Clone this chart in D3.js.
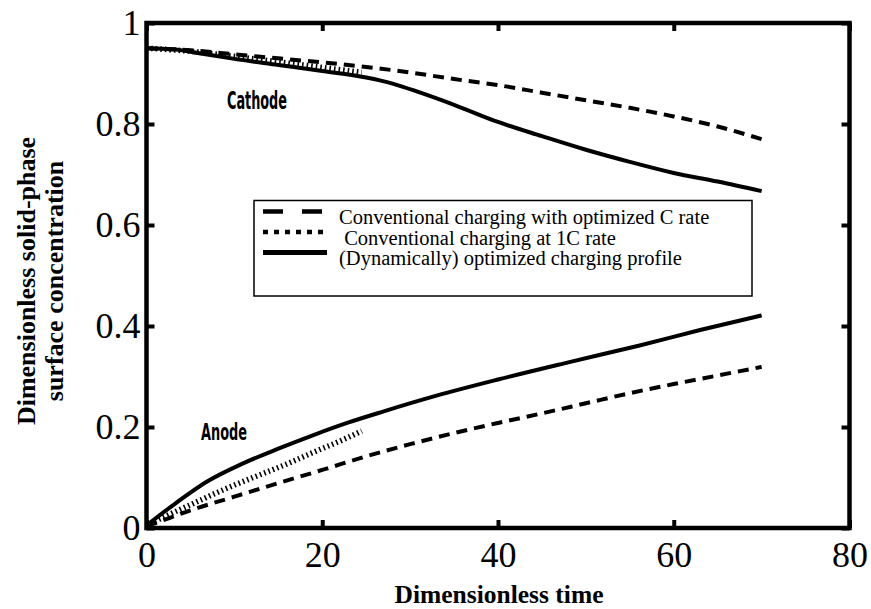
<!DOCTYPE html>
<html>
<head>
<meta charset="utf-8">
<script src="https://cdn.jsdelivr.net/npm/d3@7"></script>
<style>
  html, body { margin: 0; padding: 0; background: #fff; }
  svg { display: block; }
  .tick text { font-family: "Liberation Serif", "Times New Roman", Times, serif; }
</style>
</head>
<body>
<div id="chart"></div>
<script>
// data (dimensionless time vs surface concentration)
const xTicks = [0, 20, 40, 60, 80];
const yTicks = [0, 0.2, 0.4, 0.6, 0.8, 1];

// cathode
const cathOptT = [0, 5, 10, 15, 20, 25, 30, 35, 40, 45, 50, 55, 60, 65, 70];
const cathOptC = [0.95, 0.946, 0.938, 0.930, 0.922, 0.913, 0.902, 0.889, 0.877, 0.862, 0.847, 0.832, 0.815, 0.795, 0.770];
const cath1CT = [0, 5, 10, 15, 20, 24.5];
const cath1CC = [0.95, 0.944, 0.934, 0.923, 0.912, 0.902];
const cathDynT = [0, 3, 6, 10, 15, 20, 25, 28, 31, 35, 40, 45, 50, 55, 60, 65, 70];
const cathDynC = [0.950, 0.948, 0.940, 0.929, 0.917, 0.905, 0.892, 0.880, 0.863, 0.838, 0.804, 0.776, 0.749, 0.725, 0.703, 0.686, 0.667];

// anode
const anOptT = [0, 2, 5, 10, 15, 20, 25, 30, 35, 40, 45, 50, 55, 60, 65, 70];
const anOptC = [0.003, 0.016, 0.035, 0.062, 0.089, 0.115, 0.142, 0.166, 0.188, 0.208, 0.227, 0.247, 0.267, 0.285, 0.302, 0.319];
const an1CT = [0, 2, 4, 6, 8, 10, 13, 16, 19, 22, 24.5];
const an1CC = [0.005, 0.022, 0.038, 0.054, 0.070, 0.085, 0.106, 0.127, 0.150, 0.172, 0.192];
const anDynT = [0, 3, 7, 11, 15, 19, 23, 27, 33, 40, 48, 56, 63, 70];
const anDynC = [0.005, 0.045, 0.093, 0.128, 0.157, 0.184, 0.209, 0.231, 0.262, 0.294, 0.328, 0.361, 0.392, 0.421];

const legendLabels = [
  'Conventional charging with optimized C rate',
  ' Conventional charging at 1C rate',
  '(Dynamically) optimized charging profile'
];

const W = 871, H = 609;
const serif = '"Liberation Serif", "Times New Roman", Times, serif';

const svg = d3.select('#chart').append('svg').attr('width', W).attr('height', H);

const x = d3.scaleLinear().domain([0, 80]).range([146.5, 849.5]);
const y = d3.scaleLinear().domain([0, 1]).range([528, 23]);

// axes: ticks point inward on all four sides
const styleAxis = (g) => {
  g.attr('font-family', serif).attr('font-size', 36);
  g.select('.domain').remove();
  g.selectAll('.tick line').attr('stroke', '#000').attr('stroke-width', 4);
  g.selectAll('.tick text').attr('font-family', serif).attr('font-size', 36).attr('fill', '#000');
};

svg.append('g').attr('transform', `translate(0,${y(0)})`)
  .call(d3.axisBottom(x).tickValues(xTicks).tickSize(-8).tickPadding(13).tickFormat(d3.format('d')))
  .call(styleAxis);
svg.append('g').attr('transform', `translate(0,${y(1)})`)
  .call(d3.axisTop(x).tickValues(xTicks).tickSize(-8).tickFormat(''))
  .call(styleAxis);
svg.append('g').attr('transform', `translate(${x(0)},0)`)
  .call(d3.axisLeft(y).tickValues(yTicks).tickSize(-8).tickPadding(6).tickFormat(d => d === 0 || d === 1 ? d3.format('d')(d) : d3.format('.1f')(d)))
  .call(styleAxis);
svg.append('g').attr('transform', `translate(${x(80)},0)`)
  .call(d3.axisRight(y).tickValues(yTicks).tickSize(-8).tickFormat(''))
  .call(styleAxis);

// frame
svg.append('rect')
  .attr('x', x(0)).attr('y', y(1))
  .attr('width', x(80) - x(0)).attr('height', y(0) - y(1))
  .attr('fill', 'none').attr('stroke', '#000').attr('stroke-width', 4.5);

// curves
const line = d3.line().x(d => x(d[0])).y(d => y(d[1])).curve(d3.curveMonotoneX);
const zip = (a, b) => a.map((v, i) => [v, b[i]]);
const styles = {
  opt: { dash: '11,7', w: 4 },
  c1: { dash: '1.6,3', w: 5.5 },
  dyn: { dash: null, w: 4 },
};
const series = [
  { pts: zip(cathOptT, cathOptC), s: styles.opt },
  { pts: zip(cath1CT, cath1CC), s: styles.c1 },
  { pts: zip(cathDynT, cathDynC), s: styles.dyn },
  { pts: zip(anOptT, anOptC), s: styles.opt },
  { pts: zip(an1CT, an1CC), s: styles.c1 },
  { pts: zip(anDynT, anDynC), s: styles.dyn },
];
svg.append('g').selectAll('path').data(series).enter().append('path')
  .attr('d', d => line(d.pts))
  .attr('fill', 'none').attr('stroke', '#000')
  .attr('stroke-width', d => d.s.w)
  .attr('stroke-dasharray', d => d.s.dash);

// curve labels
const narrow = '"Liberation Sans Narrow", "Arial Narrow", "DejaVu Sans Condensed", sans-serif';
svg.append('text').attr('x', 227).attr('y', 109)
  .attr('font-family', narrow).attr('font-weight', 'bold').attr('font-size', 25)
  .attr('textLength', 60).attr('lengthAdjust', 'spacingAndGlyphs').text('Cathode');
svg.append('text').attr('x', 201).attr('y', 440)
  .attr('font-family', narrow).attr('font-weight', 'bold').attr('font-size', 23)
  .attr('textLength', 46).attr('lengthAdjust', 'spacingAndGlyphs').text('Anode');

// legend
const lg = svg.append('g');
lg.append('rect').attr('x', 254).attr('y', 200.5).attr('width', 498).attr('height', 95.5)
  .attr('fill', '#fff').attr('stroke', '#000').attr('stroke-width', 1.5);
const legendStyles = [
  { dash: '20,19', w: 4.5 },
  { dash: '5,6', w: 4.5 },
  { dash: null, w: 5 },
];
const rowY = [211.5, 232, 252.5];
legendLabels.forEach((lab, i) => {
  lg.append('line').attr('x1', 263).attr('x2', 327).attr('y1', rowY[i]).attr('y2', rowY[i])
    .attr('stroke', '#000').attr('stroke-width', legendStyles[i].w)
    .attr('stroke-dasharray', legendStyles[i].dash);
  lg.append('text').attr('x', 339).attr('y', rowY[i] + 12.5)
    .attr('font-family', serif).attr('font-size', 20.5)
    .style('white-space', 'pre').text(lab);
});

// axis titles
svg.append('text').attr('x', 499).attr('y', 603).attr('text-anchor', 'middle')
  .attr('font-family', serif).attr('font-weight', 'bold').attr('font-size', 25.5)
  .text('Dimensionless time');
const yl = svg.append('text').attr('transform', 'rotate(-90)')
  .attr('text-anchor', 'middle').attr('font-family', serif)
  .attr('font-weight', 'bold').attr('font-size', 26);
yl.append('tspan').attr('x', -281).attr('y', 35).text('Dimensionless solid-phase');
yl.append('tspan').attr('x', -281).attr('y', 63).text('surface concentration');
</script>
</body>
</html>
